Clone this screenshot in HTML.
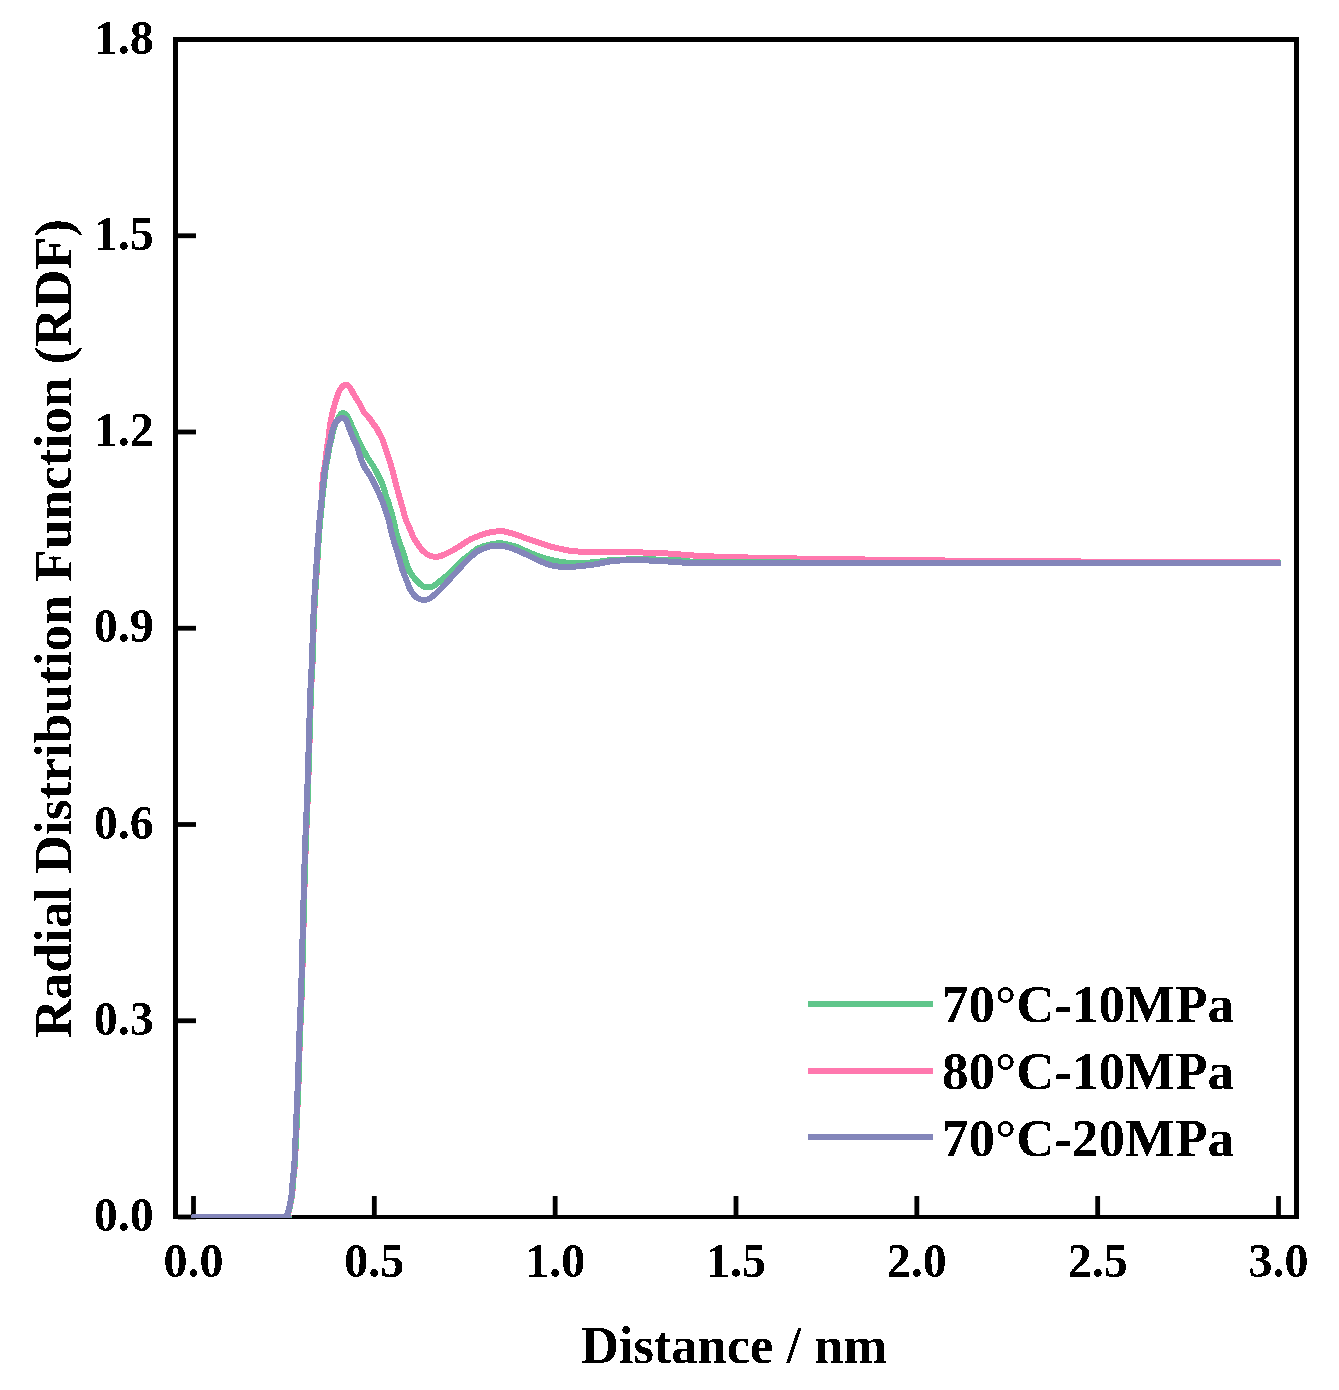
<!DOCTYPE html>
<html><head><meta charset="utf-8"><style>
html,body{margin:0;padding:0;background:#fff;}
svg{display:block;}
text{font-family:"Liberation Serif",serif;font-weight:bold;fill:#000;}
</style></head><body>
<svg width="1339" height="1390" viewBox="0 0 1339 1390">
<rect width="1339" height="1390" fill="#fff"/>
<defs><filter id="bin" x="-5%" y="-5%" width="110%" height="110%" color-interpolation-filters="sRGB"><feComponentTransfer><feFuncA type="discrete" tableValues="0 1"/></feComponentTransfer></filter></defs>
<rect x="173" y="37" width="1126" height="5" fill="#000"/>
<rect x="173" y="37" width="5" height="1182" fill="#000"/>
<rect x="1294" y="37" width="5" height="1182" fill="#000"/>
<rect x="173" y="1215" width="1126" height="4" fill="#000"/>
<rect x="191.10" y="1196" width="4.8" height="19" fill="#000"/>
<rect x="371.93" y="1196" width="4.8" height="19" fill="#000"/>
<rect x="552.77" y="1196" width="4.8" height="19" fill="#000"/>
<rect x="733.60" y="1196" width="4.8" height="19" fill="#000"/>
<rect x="914.43" y="1196" width="4.8" height="19" fill="#000"/>
<rect x="1095.27" y="1196" width="4.8" height="19" fill="#000"/>
<rect x="1276.10" y="1196" width="4.8" height="19" fill="#000"/>
<rect x="178" y="1214.60" width="18" height="4.8" fill="#000"/>
<rect x="178" y="1018.35" width="18" height="4.8" fill="#000"/>
<rect x="178" y="822.10" width="18" height="4.8" fill="#000"/>
<rect x="178" y="625.85" width="18" height="4.8" fill="#000"/>
<rect x="178" y="429.60" width="18" height="4.8" fill="#000"/>
<rect x="178" y="233.35" width="18" height="4.8" fill="#000"/>
<rect x="178" y="37.10" width="18" height="4.8" fill="#000"/>
<defs><clipPath id="pc"><rect x="177" y="41" width="1118" height="1177"/></clipPath></defs><g clip-path="url(#pc)">
<path d="M193.5,1217.0 C208.2,1217.0 266.8,1217.0 282.0,1217.0 C297.2,1217.0 283.7,1217.1 284.5,1216.9 C285.3,1216.7 286.2,1216.2 286.8,1215.6 C287.4,1214.9 287.9,1214.1 288.3,1213.0 C288.7,1211.9 289.0,1210.8 289.4,1209.2 C289.8,1207.6 290.1,1205.7 290.6,1203.2 C291.1,1200.8 291.8,1197.4 292.2,1194.5 C292.6,1191.6 292.6,1188.8 292.8,1185.9 C293.0,1183.0 293.3,1180.2 293.6,1177.3 C293.9,1174.4 294.2,1172.1 294.5,1168.6 C294.8,1165.0 294.9,1163.1 295.3,1156.0 C295.7,1148.9 296.3,1134.8 296.7,1126.0 C297.1,1117.2 297.4,1110.7 297.7,1103.0 C298.0,1095.3 298.3,1090.5 298.7,1080.0 C299.1,1069.5 299.5,1049.5 299.8,1040.0 C300.1,1030.5 300.3,1030.9 300.6,1023.3 C300.9,1015.7 301.4,1005.0 301.7,994.5 C302.0,984.0 302.2,979.1 302.7,960.0 C303.2,940.9 304.2,898.0 304.7,880.0 C305.2,862.0 305.3,861.3 305.6,851.8 C305.9,842.3 306.4,831.6 306.7,823.0 C307.0,814.4 307.2,813.8 307.7,800.0 C308.2,786.2 309.1,755.7 309.6,740.0 C310.1,724.3 310.2,716.5 310.6,706.0 C311.0,695.5 311.4,685.0 311.7,677.3 C312.0,669.6 312.4,668.0 312.7,660.0 C313.0,652.0 313.3,638.1 313.6,629.1 C313.9,620.1 314.3,612.7 314.6,606.0 C314.9,599.3 315.2,594.5 315.6,588.8 C316.0,583.0 316.4,576.3 316.7,571.5 C317.0,566.7 317.3,563.6 317.5,560.0 C317.7,556.4 317.8,554.0 318.0,550.0 C318.2,546.0 318.7,540.6 319.0,536.2 C319.3,531.9 319.5,528.0 319.8,523.9 C320.1,519.8 320.5,515.8 320.8,511.7 C321.1,507.6 321.4,503.6 321.6,499.5 C321.8,495.4 322.0,490.4 322.2,487.2 C322.4,483.9 322.5,482.4 322.7,480.0 C322.9,477.6 323.1,475.1 323.5,472.5 C323.9,469.9 324.5,467.2 324.9,464.6 C325.3,462.0 325.6,459.4 325.9,456.7 C326.2,454.0 326.5,451.3 326.9,448.7 C327.3,446.1 327.7,443.4 328.1,440.8 C328.5,438.2 328.8,435.5 329.1,432.9 C329.4,430.3 329.7,427.8 330.1,425.0 C330.5,422.2 331.1,418.8 331.7,416.0 C332.3,413.2 332.8,411.3 333.7,408.0 C334.6,404.7 336.1,399.1 337.2,396.0 C338.3,392.9 339.3,390.9 340.3,389.2 C341.3,387.5 342.4,386.3 343.3,385.6 C344.2,384.9 345.1,384.7 346.0,384.8 C346.9,384.9 347.9,385.4 348.8,386.2 C349.7,387.0 350.5,388.6 351.3,389.8 C352.1,391.1 352.7,392.4 353.4,393.7 C354.1,395.0 354.8,396.2 355.6,397.5 C356.4,398.8 357.2,400.0 358.0,401.2 C358.8,402.4 359.6,403.6 360.3,404.9 C361.0,406.1 361.4,407.4 362.0,408.7 C362.6,409.9 363.2,411.2 364.1,412.4 C365.0,413.6 366.3,414.9 367.4,416.1 C368.5,417.4 369.9,418.6 370.8,419.9 C371.7,421.1 372.1,422.4 373.0,423.6 C373.9,424.8 375.0,426.1 375.9,427.3 C376.8,428.6 377.4,429.9 378.1,431.1 C378.8,432.4 379.4,433.6 380.0,434.8 C380.6,436.0 381.3,436.8 382.0,438.5 C382.7,440.2 383.6,442.9 384.4,445.0 C385.1,447.1 385.8,449.1 386.5,451.2 C387.2,453.3 388.0,455.5 388.7,457.7 C389.4,459.9 389.7,460.9 390.6,464.2 C391.5,467.5 393.2,473.1 394.3,477.4 C395.4,481.7 396.3,485.5 397.5,490.0 C398.7,494.5 400.2,499.6 401.6,504.4 C403.0,509.2 404.1,514.5 405.6,518.8 C407.1,523.1 409.1,526.9 410.4,530.0 C411.7,533.1 412.2,535.0 413.5,537.5 C414.8,540.0 416.7,542.7 418.2,544.9 C419.7,547.1 421.0,548.9 422.6,550.5 C424.2,552.1 425.9,553.7 428.0,554.8 C430.1,555.9 433.0,556.7 435.0,556.9 C437.0,557.1 438.3,556.7 440.0,556.2 C441.7,555.8 442.5,555.4 445.0,554.2 C447.5,553.0 452.1,550.7 455.0,549.1 C457.9,547.5 460.0,546.0 462.5,544.4 C465.0,542.8 467.4,540.9 469.9,539.6 C472.4,538.3 474.9,537.4 477.4,536.4 C479.9,535.4 482.4,534.5 484.9,533.8 C487.4,533.0 489.8,532.3 492.3,531.9 C494.8,531.5 497.7,531.4 499.8,531.4 C501.9,531.4 502.3,531.0 505.0,531.6 C507.7,532.2 512.5,533.6 516.2,534.8 C519.9,536.0 523.7,537.5 527.4,538.8 C531.1,540.1 534.9,541.2 538.6,542.5 C542.3,543.8 546.6,545.3 549.8,546.3 C553.0,547.3 554.9,547.6 558.0,548.3 C561.1,549.0 564.4,549.9 568.4,550.5 C572.4,551.1 577.4,551.5 581.9,551.8 C586.4,552.1 590.8,552.0 595.3,552.1 C599.8,552.2 605.5,552.1 608.8,552.1 C612.1,552.1 610.0,551.9 615.0,551.9 C620.0,551.9 630.9,552.2 638.9,552.4 C646.9,552.6 655.8,552.9 662.8,553.2 C669.8,553.6 675.3,554.1 680.7,554.5 C686.1,554.9 687.4,555.2 695.0,555.6 C702.6,556.0 714.2,556.6 726.4,557.0 C738.6,557.4 752.5,557.7 768.2,558.0 C783.9,558.3 798.5,558.6 820.5,558.9 C842.5,559.2 871.8,559.6 900.0,560.0 C928.2,560.4 956.7,560.7 990.0,561.0 C1023.3,561.3 1051.9,561.4 1100.0,561.6 C1148.1,561.8 1248.8,561.9 1278.5,562.0" fill="none" stroke="#FF78AE" stroke-width="6" stroke-linejoin="round" stroke-linecap="round" shape-rendering="crispEdges"/>
<path d="M193.5,1217.0 C208.2,1217.0 266.4,1217.0 281.5,1217.0 C296.6,1217.0 283.5,1217.1 284.4,1216.9 C285.3,1216.7 286.1,1216.2 286.7,1215.6 C287.3,1214.9 287.8,1214.1 288.2,1213.0 C288.6,1211.9 288.9,1210.8 289.3,1209.2 C289.7,1207.6 290.0,1205.7 290.5,1203.2 C291.0,1200.8 291.7,1197.4 292.1,1194.5 C292.5,1191.6 292.5,1188.8 292.7,1185.9 C292.9,1183.0 293.2,1180.2 293.5,1177.3 C293.8,1174.4 294.1,1172.1 294.4,1168.6 C294.7,1165.0 294.8,1163.1 295.2,1156.0 C295.6,1148.9 296.2,1134.8 296.6,1126.0 C297.0,1117.2 297.3,1110.7 297.6,1103.0 C297.9,1095.3 298.2,1090.5 298.6,1080.0 C299.0,1069.5 299.4,1049.5 299.7,1040.0 C300.0,1030.5 300.2,1030.9 300.5,1023.3 C300.8,1015.7 301.2,1005.0 301.6,994.5 C302.0,984.0 302.1,979.1 302.6,960.0 C303.1,940.9 304.1,898.0 304.6,880.0 C305.1,862.0 305.2,861.3 305.5,851.8 C305.8,842.3 306.2,831.6 306.6,823.0 C307.0,814.4 307.1,813.8 307.6,800.0 C308.1,786.2 309.0,755.7 309.5,740.0 C310.0,724.3 310.1,716.5 310.5,706.0 C310.9,695.5 311.2,685.0 311.6,677.3 C312.0,669.6 312.3,668.0 312.6,660.0 C312.9,652.0 313.2,638.1 313.5,629.1 C313.8,620.1 314.2,612.7 314.5,606.0 C314.8,599.3 315.1,594.5 315.5,588.8 C315.9,583.0 316.3,576.3 316.6,571.5 C316.9,566.7 317.2,563.6 317.4,560.0 C317.6,556.4 317.6,554.0 317.9,550.0 C318.2,546.0 318.7,540.6 319.0,536.2 C319.3,531.9 319.5,528.0 319.9,523.9 C320.2,519.8 320.7,515.8 321.1,511.7 C321.5,507.6 321.9,503.6 322.3,499.5 C322.7,495.4 323.2,490.4 323.6,487.2 C324.0,483.9 324.1,482.4 324.4,480.0 C324.7,477.6 324.9,475.1 325.2,472.5 C325.5,469.9 325.9,467.2 326.3,464.6 C326.8,462.0 327.4,459.4 327.9,456.7 C328.4,454.0 328.7,451.3 329.2,448.7 C329.7,446.1 330.4,443.4 331.0,440.8 C331.6,438.2 332.0,435.4 332.6,432.9 C333.2,430.4 333.8,428.2 334.6,426.0 C335.4,423.8 336.5,421.4 337.5,419.5 C338.5,417.6 339.5,415.6 340.5,414.5 C341.5,413.4 342.5,412.9 343.5,413.0 C344.5,413.1 345.5,413.9 346.5,415.0 C347.5,416.1 348.3,417.8 349.3,419.9 C350.3,421.9 351.2,424.8 352.3,427.3 C353.4,429.8 355.1,432.7 356.0,434.8 C356.9,436.9 357.2,438.3 358.0,440.0 C358.8,441.7 359.5,443.0 360.6,445.0 C361.7,447.0 363.1,449.6 364.4,452.0 C365.7,454.4 367.1,456.8 368.6,459.2 C370.1,461.6 371.9,464.0 373.4,466.4 C374.9,468.8 376.1,471.4 377.4,473.8 C378.7,476.2 380.0,478.6 381.1,481.0 C382.2,483.4 383.0,485.9 383.8,488.2 C384.6,490.5 384.9,492.3 385.8,495.0 C386.7,497.7 387.8,500.4 389.0,504.4 C390.2,508.4 392.0,514.0 393.2,518.8 C394.4,523.6 395.5,529.7 396.4,533.2 C397.3,536.7 397.8,537.7 398.6,540.0 C399.4,542.3 400.5,544.9 401.2,547.0 C401.9,549.1 402.3,550.2 403.0,552.4 C403.7,554.6 404.8,557.7 405.5,560.0 C406.2,562.3 406.8,564.2 407.5,566.0 C408.2,567.8 408.8,569.5 409.5,571.0 C410.2,572.5 411.0,573.6 412.0,575.0 C413.0,576.4 414.2,578.1 415.5,579.5 C416.8,580.9 418.2,582.4 419.5,583.5 C420.8,584.6 421.8,585.6 423.0,586.3 C424.2,587.0 425.3,587.5 427.0,587.5 C428.7,587.5 430.9,587.2 433.0,586.2 C435.1,585.2 436.9,583.6 439.9,581.2 C442.9,578.8 447.3,575.5 451.1,572.0 C454.9,568.5 459.4,563.4 462.5,560.5 C465.6,557.6 467.4,556.5 469.9,554.5 C472.4,552.5 474.9,550.2 477.4,548.8 C479.9,547.3 482.4,546.6 484.9,545.8 C487.4,545.0 489.8,544.5 492.3,544.1 C494.8,543.7 497.7,543.3 499.8,543.3 C501.9,543.2 502.3,543.2 505.0,543.8 C507.7,544.4 512.5,545.5 516.2,546.8 C519.9,548.1 523.7,550.1 527.4,551.7 C531.1,553.3 534.9,554.9 538.6,556.2 C542.3,557.5 546.6,558.9 549.8,559.7 C553.0,560.6 554.9,560.8 558.0,561.3 C561.1,561.8 564.4,562.5 568.4,562.7 C572.4,563.0 577.4,562.9 581.9,562.8 C586.4,562.7 590.8,562.6 595.3,562.2 C599.8,561.8 605.5,560.7 608.8,560.3 C612.1,559.9 610.0,560.2 615.0,560.0 C620.0,559.8 630.9,559.2 638.9,559.2 C646.9,559.2 655.8,559.5 662.8,559.7 C669.8,559.9 675.3,560.1 680.7,560.5 C686.1,560.9 685.6,561.5 695.0,561.8 C704.4,562.1 719.3,562.3 736.8,562.4 C754.3,562.5 709.7,562.4 800.0,562.5 C890.3,562.6 1198.8,562.8 1278.5,562.9" fill="none" stroke="#60C68B" stroke-width="6" stroke-linejoin="round" stroke-linecap="round" shape-rendering="crispEdges"/>
<path d="M193.5,1217.0 C208.1,1217.0 265.9,1217.0 281.0,1217.0 C296.1,1217.0 283.1,1217.1 284.0,1216.9 C284.9,1216.7 285.7,1216.2 286.3,1215.6 C286.9,1214.9 287.4,1214.1 287.8,1213.0 C288.2,1211.9 288.5,1210.8 288.9,1209.2 C289.3,1207.6 289.6,1205.7 290.1,1203.2 C290.6,1200.8 291.3,1197.4 291.7,1194.5 C292.1,1191.6 292.1,1188.8 292.3,1185.9 C292.5,1183.0 292.8,1180.2 293.1,1177.3 C293.4,1174.4 293.7,1172.1 294.0,1168.6 C294.3,1165.0 294.5,1163.1 294.8,1156.0 C295.1,1148.9 295.6,1134.8 296.0,1126.0 C296.4,1117.2 296.7,1110.7 297.0,1103.0 C297.3,1095.3 297.6,1090.5 298.0,1080.0 C298.4,1069.5 298.8,1049.5 299.1,1040.0 C299.4,1030.5 299.6,1030.9 299.9,1023.3 C300.2,1015.7 300.6,1005.0 301.0,994.5 C301.4,984.0 301.5,979.1 302.0,960.0 C302.5,940.9 303.5,898.0 304.0,880.0 C304.5,862.0 304.6,861.3 304.9,851.8 C305.2,842.3 305.6,831.6 306.0,823.0 C306.4,814.4 306.5,813.8 307.0,800.0 C307.5,786.2 308.4,755.7 308.9,740.0 C309.4,724.3 309.5,716.5 309.9,706.0 C310.2,695.5 310.6,685.0 311.0,677.3 C311.4,669.6 311.7,668.0 312.0,660.0 C312.3,652.0 312.6,638.1 312.9,629.1 C313.2,620.1 313.6,612.7 313.9,606.0 C314.2,599.3 314.5,594.5 314.9,588.8 C315.2,583.0 315.7,576.3 316.0,571.5 C316.3,566.7 316.6,563.6 316.8,560.0 C317.0,556.4 317.1,554.0 317.3,550.0 C317.6,546.0 318.0,540.6 318.3,536.2 C318.6,531.9 318.9,528.0 319.2,523.9 C319.5,519.8 320.0,515.8 320.4,511.7 C320.8,507.6 321.2,503.6 321.6,499.5 C322.0,495.4 322.5,490.4 322.9,487.2 C323.2,483.9 323.4,482.4 323.7,480.0 C324.0,477.6 324.2,475.1 324.5,472.5 C324.8,469.9 325.1,467.2 325.6,464.6 C326.1,462.0 326.8,459.4 327.3,456.7 C327.8,454.0 327.9,451.3 328.4,448.7 C328.9,446.1 329.9,443.4 330.5,440.8 C331.1,438.2 331.2,435.5 331.9,432.9 C332.6,430.3 333.6,427.1 334.5,425.0 C335.4,422.9 336.2,421.5 337.5,420.3 C338.8,419.1 340.6,418.1 342.0,418.0 C343.4,417.9 344.9,418.4 346.0,420.0 C347.1,421.6 347.9,424.8 348.9,427.3 C349.8,429.8 350.8,432.7 351.7,434.8 C352.6,436.9 353.2,438.3 354.0,440.0 C354.8,441.7 355.7,443.0 356.5,445.0 C357.3,447.0 358.1,449.8 358.9,452.2 C359.7,454.6 360.3,457.0 361.2,459.4 C362.1,461.8 362.9,464.2 364.2,466.6 C365.5,469.0 367.4,471.4 368.9,473.8 C370.4,476.2 371.7,478.3 373.1,481.0 C374.5,483.7 375.7,486.1 377.4,490.0 C379.1,493.9 381.7,499.6 383.5,504.4 C385.3,509.2 386.9,514.0 388.3,518.8 C389.7,523.6 390.7,529.7 391.6,533.2 C392.5,536.7 392.5,536.8 393.5,540.0 C394.5,543.2 396.2,548.5 397.4,552.4 C398.6,556.3 399.8,560.7 400.6,563.6 C401.5,566.5 401.5,567.3 402.5,570.0 C403.5,572.7 405.1,576.7 406.4,580.0 C407.7,583.3 409.0,587.2 410.5,590.0 C412.0,592.8 414.0,595.0 415.5,596.5 C417.0,598.0 418.1,598.4 419.5,599.0 C420.9,599.6 422.2,600.1 424.0,600.0 C425.8,599.9 427.4,600.0 430.0,598.3 C432.6,596.6 436.4,593.1 439.9,589.7 C443.4,586.3 447.3,581.8 451.1,577.7 C454.9,573.6 459.4,568.5 462.5,565.2 C465.6,561.9 467.4,560.0 469.9,557.7 C472.4,555.4 474.9,552.9 477.4,551.3 C479.9,549.7 482.4,549.1 484.9,548.2 C487.4,547.3 489.8,546.2 492.3,545.8 C494.8,545.4 497.7,545.5 499.8,545.6 C501.9,545.7 502.3,545.5 505.0,546.3 C507.7,547.0 512.5,548.6 516.2,550.1 C519.9,551.6 523.7,553.3 527.4,555.0 C531.1,556.7 534.9,558.7 538.6,560.4 C542.3,562.1 546.6,564.0 549.8,565.0 C553.0,566.0 554.9,566.1 558.0,566.5 C561.1,566.9 564.4,567.2 568.4,567.1 C572.4,567.0 577.4,566.4 581.9,565.9 C586.4,565.4 590.8,565.0 595.3,564.3 C599.8,563.6 605.5,562.3 608.8,561.7 C612.1,561.1 610.0,561.0 615.0,560.7 C620.0,560.5 630.9,560.1 638.9,560.2 C646.9,560.3 655.8,560.8 662.8,561.2 C669.8,561.6 675.3,562.0 680.7,562.4 C686.1,562.8 685.6,563.2 695.0,563.3 C704.4,563.4 724.6,563.1 736.8,563.0 C749.0,562.9 738.7,562.6 768.2,562.6 C797.7,562.6 829.0,562.9 914.0,563.0 C999.0,563.1 1217.8,563.2 1278.5,563.2" fill="none" stroke="#8386BA" stroke-width="6" stroke-linejoin="round" stroke-linecap="round" shape-rendering="crispEdges"/>
</g>
<g filter="url(#bin)">
<text x="193.50" y="1276.6" font-size="48" text-anchor="middle">0.0</text>
<text x="374.33" y="1276.6" font-size="48" text-anchor="middle">0.5</text>
<text x="555.17" y="1276.6" font-size="48" text-anchor="middle">1.0</text>
<text x="736.00" y="1276.6" font-size="48" text-anchor="middle">1.5</text>
<text x="916.83" y="1276.6" font-size="48" text-anchor="middle">2.0</text>
<text x="1097.67" y="1276.6" font-size="48" text-anchor="middle">2.5</text>
<text x="1278.50" y="1276.6" font-size="48" text-anchor="middle">3.0</text>
<text x="153.7" y="1231.20" font-size="48" text-anchor="end">0.0</text>
<text x="153.7" y="1034.95" font-size="48" text-anchor="end">0.3</text>
<text x="153.7" y="838.70" font-size="48" text-anchor="end">0.6</text>
<text x="153.7" y="642.45" font-size="48" text-anchor="end">0.9</text>
<text x="153.7" y="446.20" font-size="48" text-anchor="end">1.2</text>
<text x="153.7" y="249.95" font-size="48" text-anchor="end">1.5</text>
<text x="153.7" y="53.70" font-size="48" text-anchor="end">1.8</text>
<text x="734" y="1363" font-size="52.5" text-anchor="middle">Distance / nm</text>
<text transform="translate(71,628.5) rotate(-90)" x="0" y="0" font-size="53.3" text-anchor="middle">Radial Distribution Function (RDF)</text>
<line x1="808" y1="1004" x2="932.5" y2="1004" stroke="#60C68B" stroke-width="6"/>
<text x="942" y="1022" font-size="53">70°C-10MPa</text>
<line x1="808" y1="1071" x2="932.5" y2="1071" stroke="#FF78AE" stroke-width="6"/>
<text x="942" y="1089.2" font-size="53">80°C-10MPa</text>
<line x1="808" y1="1137" x2="932.5" y2="1137" stroke="#8386BA" stroke-width="6"/>
<text x="942" y="1156.3" font-size="53">70°C-20MPa</text>
</g>
</svg>
</body></html>
